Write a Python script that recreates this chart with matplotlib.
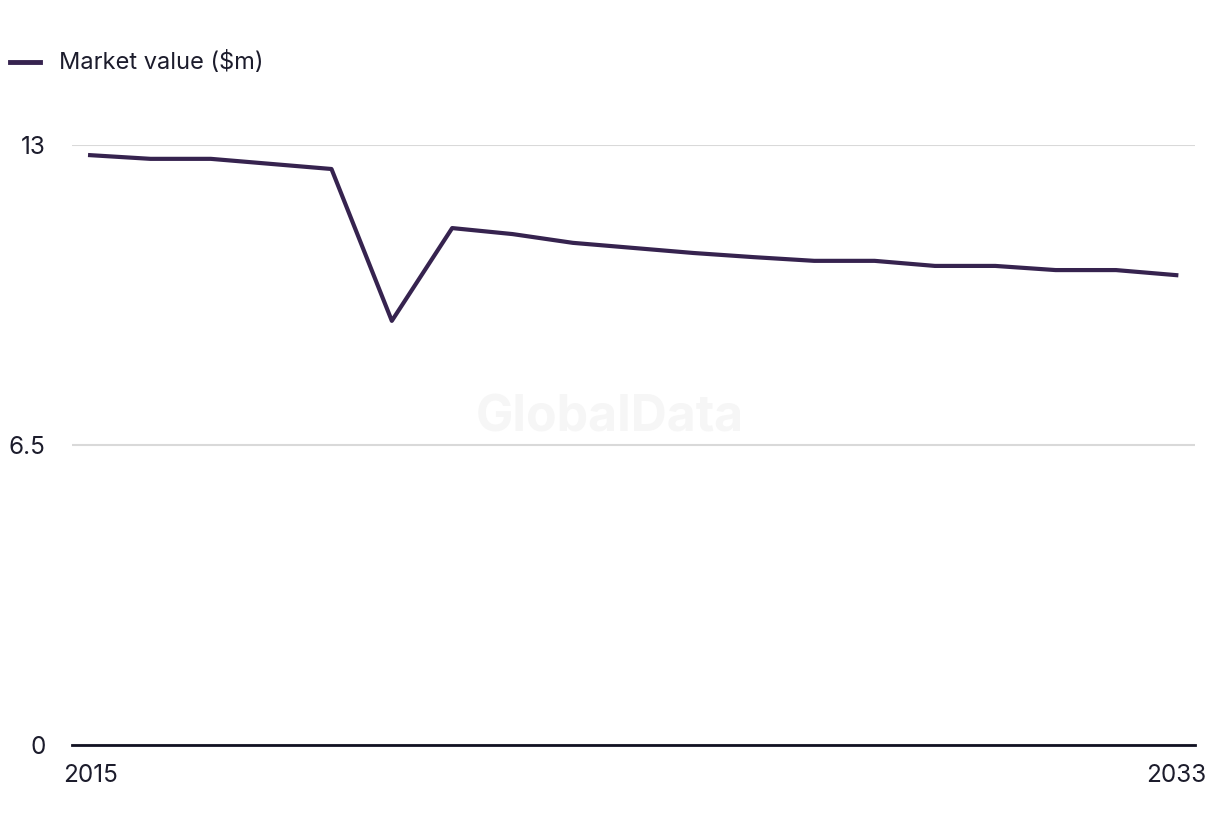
import matplotlib
matplotlib.use("Agg")
import matplotlib.pyplot as plt
from matplotlib.lines import Line2D

years = list(range(2015, 2034))
market_value = [12.78, 12.70, 12.70, 12.59, 12.48, 9.19, 11.20, 11.07, 10.88, 10.77,
                10.66, 10.57, 10.49, 10.49, 10.38, 10.38, 10.29, 10.29, 10.18]
y_ticks = [0, 6.5, 13]
y_tick_labels = ["0", "6.5", "13"]
x_ticks = [2015, 2033]
x_tick_labels = ["2015", "2033"]
series_name = "Market value ($m)"

plt.rcParams['font.family'] = ['Inter', 'DejaVu Sans']
line_color = "#36234f"
text_color = "#1c1c2c"

fig = plt.figure(figsize=(12.2, 8.36), dpi=100)
ax = fig.add_axes([72/1220, 1-745/836, (1195-72)/1220, 600/836])

fig.text(610/1220, 1-418/836, "GlobalData", ha="center", va="center",
         fontsize=36, fontweight="bold", color="#f6f6f6", zorder=0)

ax.plot(years, market_value, color=line_color, lw=3, clip_on=False, zorder=3)

ax.set_xlim(2014.7, 2033.31)
ax.set_ylim(0, 13)
ax.set_yticks(y_ticks)
ax.set_yticklabels(y_tick_labels)
ax.set_xticks(x_ticks)
ax.set_xticklabels(x_tick_labels)
ax.grid(axis="y", color="#d9d9d9", lw=1.5)
ax.set_axisbelow(True)
ax.patch.set_alpha(0)
for s in ["top", "right", "left"]:
    ax.spines[s].set_visible(False)
ax.spines["bottom"].set_color("#111122")
ax.spines["bottom"].set_linewidth(2)
ax.tick_params(axis="both", length=0, labelsize=17.5, labelcolor=text_color)
ax.tick_params(axis="y", pad=19)
ax.tick_params(axis="x", pad=14)

fig.add_artist(Line2D([10/1220, 40/1220], [1-62/836, 1-62/836], color=line_color, lw=3.5))
fig.text(59/1220, 1-62/836, series_name, fontsize=17, color=text_color, va="center", ha="left")

fig.savefig("out.png", dpi=100, facecolor="white")
